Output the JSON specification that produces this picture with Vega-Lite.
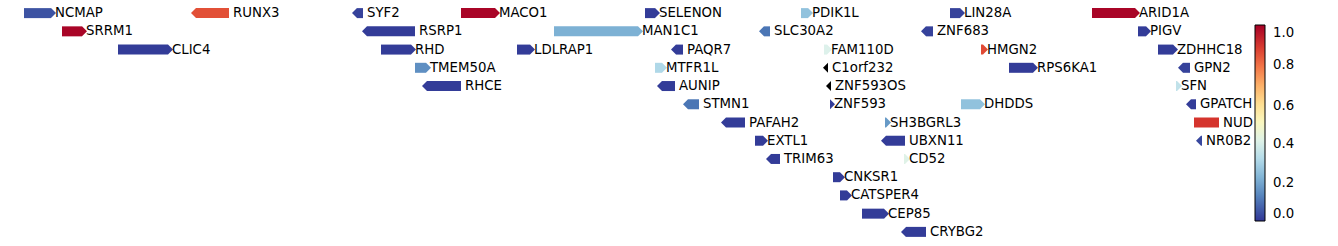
{
  "$schema": "https://vega.github.io/schema/vega-lite/v6.json",
  "autosize": {"type": "none"},
  "width": 1253,
  "height": 237,
  "padding": {"left": 0, "top": 4, "right": 85, "bottom": 5},
  "background": "white",
  "config": {"view": {"stroke": null}, "text": {"font": "DejaVu Sans"}},
  "data": {"values": [
    {"gene": "NCMAP", "row": 0, "start": 24, "end": 51, "strand": "+", "value": 0.01},
    {"gene": "RUNX3", "row": 0, "start": 196, "end": 229, "strand": "-", "value": 0.87},
    {"gene": "SYF2", "row": 0, "start": 357, "end": 363, "strand": "-", "value": -0.02},
    {"gene": "MACO1", "row": 0, "start": 461, "end": 495, "strand": "+", "value": 1.02},
    {"gene": "SELENON", "row": 0, "start": 645, "end": 655, "strand": "+", "value": -0.03},
    {"gene": "PDIK1L", "row": 0, "start": 801, "end": 808, "strand": "+", "value": 0.23},
    {"gene": "LIN28A", "row": 0, "start": 950, "end": 960, "strand": "+", "value": -0.02},
    {"gene": "ARID1A", "row": 0, "start": 1092, "end": 1135, "strand": "+", "value": 1.02},
    {"gene": "SRRM1", "row": 1, "start": 62, "end": 82, "strand": "+", "value": 1.02},
    {"gene": "RSRP1", "row": 1, "start": 367, "end": 415, "strand": "-", "value": -0.03},
    {"gene": "MAN1C1", "row": 1, "start": 554, "end": 638, "strand": "+", "value": 0.19},
    {"gene": "SLC30A2", "row": 1, "start": 764, "end": 770, "strand": "-", "value": 0.07},
    {"gene": "ZNF683", "row": 1, "start": 926, "end": 933, "strand": "-", "value": -0.02},
    {"gene": "PIGV", "row": 1, "start": 1138, "end": 1146, "strand": "+", "value": -0.03},
    {"gene": "CLIC4", "row": 2, "start": 118, "end": 168, "strand": "+", "value": -0.03},
    {"gene": "RHD", "row": 2, "start": 381, "end": 411, "strand": "+", "value": -0.03},
    {"gene": "LDLRAP1", "row": 2, "start": 517, "end": 530, "strand": "+", "value": -0.03},
    {"gene": "PAQR7", "row": 2, "start": 676, "end": 683, "strand": "-", "value": -0.03},
    {"gene": "FAM110D", "row": 2, "start": 824, "end": 827, "strand": "+", "value": 0.39},
    {"gene": "HMGN2", "row": 2, "start": 981, "end": 983, "strand": "+", "value": 0.88},
    {"gene": "ZDHHC18", "row": 2, "start": 1158, "end": 1173, "strand": "+", "value": -0.03},
    {"gene": "TMEM50A", "row": 3, "start": 415, "end": 426, "strand": "+", "value": 0.12},
    {"gene": "MTFR1L", "row": 3, "start": 655, "end": 662, "strand": "+", "value": 0.29},
    {"gene": "C1orf232", "row": 3, "start": 828, "end": 828, "strand": "-", "value": null},
    {"gene": "RPS6KA1", "row": 3, "start": 1009, "end": 1033, "strand": "+", "value": -0.03},
    {"gene": "GPN2", "row": 3, "start": 1183, "end": 1190, "strand": "-", "value": -0.02},
    {"gene": "RHCE", "row": 4, "start": 427, "end": 461, "strand": "-", "value": -0.03},
    {"gene": "AUNIP", "row": 4, "start": 662, "end": 675, "strand": "-", "value": -0.03},
    {"gene": "ZNF593OS", "row": 4, "start": 831, "end": 831, "strand": "-", "value": null},
    {"gene": "SFN", "row": 4, "start": 1176, "end": 1177, "strand": "+", "value": 0.33},
    {"gene": "STMN1", "row": 5, "start": 688, "end": 699, "strand": "-", "value": 0.07},
    {"gene": "ZNF593", "row": 5, "start": 830, "end": 830, "strand": "+", "value": -0.03},
    {"gene": "DHDDS", "row": 5, "start": 961, "end": 980, "strand": "+", "value": 0.23},
    {"gene": "GPATCH3", "row": 5, "start": 1191, "end": 1196, "strand": "-", "value": -0.03},
    {"gene": "PAFAH2", "row": 6, "start": 726, "end": 745, "strand": "-", "value": -0.03},
    {"gene": "SH3BGRL3", "row": 6, "start": 885, "end": 886, "strand": "+", "value": 0.14},
    {"gene": "NUDC", "row": 6, "start": 1194, "end": 1219, "strand": ".", "value": 0.92},
    {"gene": "EXTL1", "row": 7, "start": 755, "end": 763, "strand": "+", "value": -0.03},
    {"gene": "UBXN11", "row": 7, "start": 886, "end": 905, "strand": "-", "value": -0.03},
    {"gene": "NR0B2", "row": 7, "start": 1201, "end": 1202, "strand": "-", "value": -0.01},
    {"gene": "TRIM63", "row": 8, "start": 771, "end": 780, "strand": "-", "value": -0.03},
    {"gene": "CD52", "row": 8, "start": 904, "end": 905, "strand": "+", "value": 0.4},
    {"gene": "CNKSR1", "row": 9, "start": 833, "end": 840, "strand": "+", "value": -0.03},
    {"gene": "CATSPER4", "row": 10, "start": 840, "end": 847, "strand": "+", "value": -0.03},
    {"gene": "CEP85", "row": 11, "start": 862, "end": 884, "strand": "+", "value": -0.03},
    {"gene": "CRYBG2", "row": 12, "start": 906, "end": 926, "strand": "-", "value": -0.03}
  ]},
  "encoding": {
    "y": {"field": "row", "type": "quantitative", "scale": {"domain": [-0.5, 12.5], "reverse": true, "nice": false, "zero": false, "padding": 0}, "axis": null}
  },
  "layer": [
    {
      "mark": {"type": "bar", "height": 10, "invalid": null},
      "encoding": {
        "x": {"field": "start", "type": "quantitative", "scale": {"domain": [0, 1253], "nice": false, "zero": false, "padding": 0}, "axis": null},
        "x2": {"field": "end"},
        "color": {
          "condition": {"test": "datum.value === null", "value": "black"},
          "field": "value", "type": "quantitative",
          "scale": {"scheme": "redyellowblue", "reverse": true, "domain": [-0.04, 1.03], "nice": false, "zero": false},
          "legend": {
            "title": null, "orient": "none", "legendX": 1255, "legendY": 21, "direction": "vertical",
            "gradientLength": 196, "gradientThickness": 10, "gradientStrokeColor": "black", "gradientStrokeWidth": 1,
            "values": [0.0, 0.1675, 0.3804, 0.5905, 0.8116, 0.989],
            "labelExpr": "datum.value < 0.08 ? '0.0' : datum.value < 0.28 ? '0.2' : datum.value < 0.48 ? '0.4' : datum.value < 0.7 ? '0.6' : datum.value < 0.9 ? '0.8' : '1.0'",
            "labelOverlap": false,
            "labelFont": "DejaVu Sans", "labelFontSize": 13.3, "labelColor": "black", "labelOffset": 8
          }
        }
      }
    },
    {
      "transform": [{"filter": "datum.strand === '+'"}],
      "mark": {"type": "point", "filled": true, "opacity": 1, "size": 100, "strokeWidth": 0, "invalid": null},
      "encoding": {
        "x": {"field": "end", "type": "quantitative"},
        "shape": {"value": "M0,-1L1,0L0,1Z"},
        "color": {
          "condition": {"test": "datum.value === null", "value": "black"},
          "field": "value", "type": "quantitative"
        }
      }
    },
    {
      "transform": [{"filter": "datum.strand === '-'"}],
      "mark": {"type": "point", "filled": true, "opacity": 1, "size": 100, "strokeWidth": 0, "invalid": null},
      "encoding": {
        "x": {"field": "start", "type": "quantitative"},
        "shape": {"value": "M0,-1L-1,0L0,1Z"},
        "color": {
          "condition": {"test": "datum.value === null", "value": "black"},
          "field": "value", "type": "quantitative"
        }
      }
    },
    {
      "mark": {"type": "text", "align": "left", "baseline": "middle", "dx": 4, "fontSize": 13.3, "font": "DejaVu Sans", "color": "black", "clip": true},
      "encoding": {
        "x": {"field": "end", "type": "quantitative"},
        "text": {"field": "gene"}
      }
    }
  ]
}
